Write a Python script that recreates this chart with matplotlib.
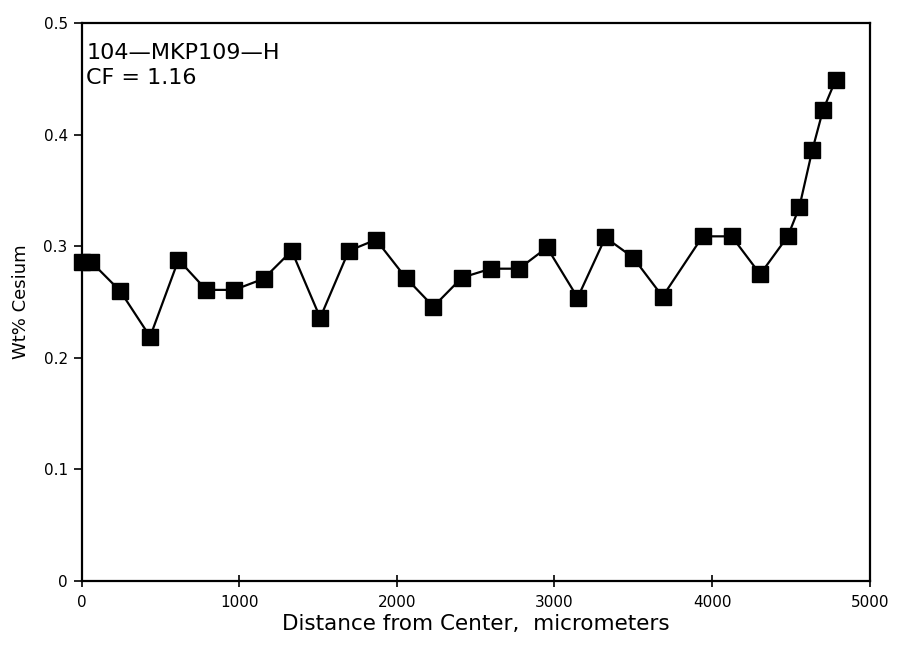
import matplotlib
matplotlib.use('Agg')
import matplotlib.pyplot as plt

# Distance from center (micrometers) and Cs concentration (wt%)
distance = [0, 62, 245, 435, 615, 791, 969, 1155, 1333, 1514, 1695, 1868,
            2056, 2232, 2413, 2597, 2775, 2953, 3147, 3323, 3499, 3686,
            3940, 4124, 4305, 4480, 4553, 4635, 4703, 4783]
cesium = [0.286, 0.286, 0.260, 0.219, 0.288, 0.261, 0.261, 0.271, 0.296,
          0.236, 0.296, 0.306, 0.272, 0.246, 0.272, 0.280, 0.280, 0.299,
          0.254, 0.308, 0.290, 0.255, 0.309, 0.309, 0.275, 0.309, 0.335,
          0.386, 0.422, 0.449]

x_ticks = [0, 1000, 2000, 3000, 4000, 5000]
y_ticks = [0, 0.1, 0.2, 0.3, 0.4, 0.5]
y_tick_labels = ['0', '0.1', '0.2', '0.3', '0.4', '0.5']

plt.rcParams['font.family'] = ['DejaVu Sans']

fig = plt.figure(figsize=(9.06, 6.47), dpi=100)
ax = fig.add_axes([0.090, 0.102, 0.870, 0.862])

ax.plot(distance, cesium, color='black', linewidth=1.6,
        marker='s', markersize=11, markerfacecolor='black',
        markeredgecolor='black', clip_on=False)

ax.set_xlim(0, 5000)
ax.set_ylim(0, 0.5)
ax.set_xticks(x_ticks)
ax.set_yticks(y_ticks)
ax.set_yticklabels(y_tick_labels)
ax.tick_params(axis='x', direction='inout', length=8, width=1.2,
               labelsize=11, pad=6)
ax.tick_params(axis='y', direction='out', length=6, width=1.2,
               labelsize=11, pad=4)
for s in ax.spines.values():
    s.set_linewidth(1.6)

ax.set_xlabel('Distance from Center,  micrometers', fontsize=15.5, labelpad=3)
ax.set_ylabel('Wt% Cesium', fontsize=13, labelpad=10)

ax.text(0.006, 0.965, '104\u2014MKP109\u2014H\nCF = 1.16', transform=ax.transAxes,
        fontsize=16, va='top', ha='left', linespacing=1.3)

fig.savefig('out.png', dpi=100)
